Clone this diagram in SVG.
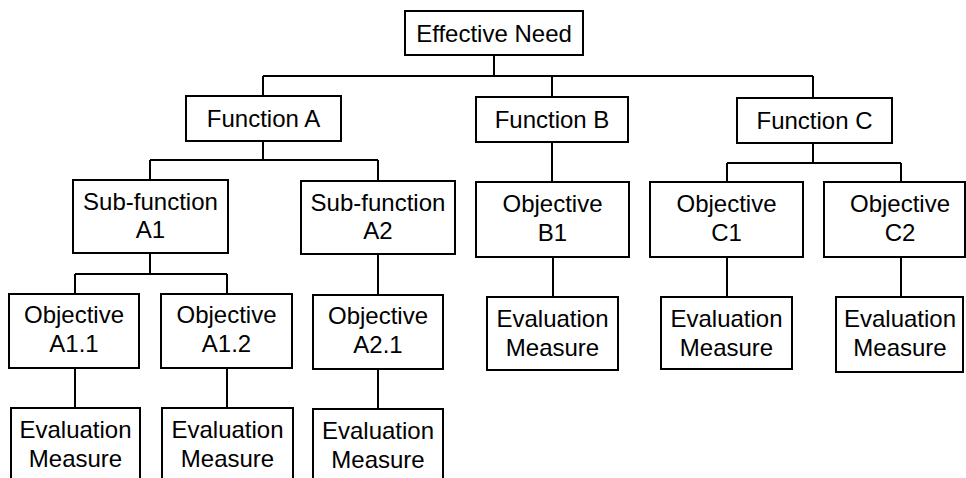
<svg xmlns="http://www.w3.org/2000/svg" width="966" height="478" viewBox="0 0 966 478">
<style>
rect.b{fill:#fff;stroke:#000;stroke-width:2}
text{font-family:"Liberation Sans",Arial,sans-serif;font-size:24px;fill:#000;text-anchor:middle}
#connectors path{fill:none;stroke:#000;stroke-width:2}
</style>
<rect width="966" height="478" fill="#fff"/>
<g id="connectors">
<path d="M494 55V76M263 76H813M263 76V96M552 76V97M813 76V98"/>
<path d="M263 141V160M150 160H378M150 160V180M378 160V181"/>
<path d="M150 253V274M75 274H227M75 274V294M227 274V294"/>
<path d="M378 254V295"/>
<path d="M75 368V408M227 368V408M378 369V409"/>
<path d="M552 142V182M553 257V297"/>
<path d="M813 143V163M727 163H901M727 163V182M901 163V182"/>
<path d="M727 257V297M901 257V297"/>
</g>
<g id="effective-need"><rect class="b" x="405" y="11" width="178" height="44"/><text x="494" y="42">Effective Need</text></g>
<g id="function-a"><rect class="b" x="186" y="96" width="155" height="45"/><text x="263.5" y="127">Function A</text></g>
<g id="function-b"><rect class="b" x="476" y="97" width="152" height="45"/><text x="552" y="128">Function B</text></g>
<g id="function-c"><rect class="b" x="737" y="98" width="155" height="45"/><text x="814.5" y="129">Function C</text></g>
<g id="sub-function-a1"><rect class="b" x="73" y="180" width="155" height="73"/><text x="150.5" y="210">Sub-function</text><text x="150.5" y="238">A1</text></g>
<g id="sub-function-a2"><rect class="b" x="301" y="181" width="154" height="73"/><text x="378" y="211">Sub-function</text><text x="378" y="239">A2</text></g>
<g id="objective-b1"><rect class="b" x="476" y="182" width="153" height="75"/><text x="552.5" y="212">Objective</text><text x="552.5" y="241">B1</text></g>
<g id="objective-c1"><rect class="b" x="650" y="182" width="153" height="75"/><text x="726.5" y="212">Objective</text><text x="726.5" y="241">C1</text></g>
<g id="objective-c2"><rect class="b" x="824" y="182" width="141" height="75"/><text x="900" y="212">Objective</text><text x="900" y="241">C2</text></g>
<g id="objective-a1-1"><rect class="b" x="9" y="294" width="130" height="74"/><text x="74" y="323">Objective</text><text x="74" y="352">A1.1</text></g>
<g id="objective-a1-2"><rect class="b" x="161" y="294" width="131" height="74"/><text x="226.5" y="323">Objective</text><text x="226.5" y="352">A1.2</text></g>
<g id="objective-a2-1"><rect class="b" x="313" y="295" width="130" height="74"/><text x="378" y="324">Objective</text><text x="378" y="353">A2.1</text></g>
<g id="evaluation-b1"><rect class="b" x="487" y="297" width="131" height="73"/><text x="552.5" y="327">Evaluation</text><text x="552.5" y="356">Measure</text></g>
<g id="evaluation-c1"><rect class="b" x="661" y="297" width="131" height="72"/><text x="726.5" y="327">Evaluation</text><text x="726.5" y="356">Measure</text></g>
<g id="evaluation-c2"><rect class="b" x="836" y="297" width="127" height="75"/><text x="900" y="327">Evaluation</text><text x="900" y="356">Measure</text></g>
<g id="evaluation-a1-1"><rect class="b" x="11" y="408" width="129" height="76"/><text x="75.5" y="438">Evaluation</text><text x="75.5" y="467">Measure</text></g>
<g id="evaluation-a1-2"><rect class="b" x="162" y="408" width="131" height="76"/><text x="227.5" y="438">Evaluation</text><text x="227.5" y="467">Measure</text></g>
<g id="evaluation-a2-1"><rect class="b" x="313" y="409" width="130" height="76"/><text x="378" y="439">Evaluation</text><text x="378" y="468">Measure</text></g>
</svg>
